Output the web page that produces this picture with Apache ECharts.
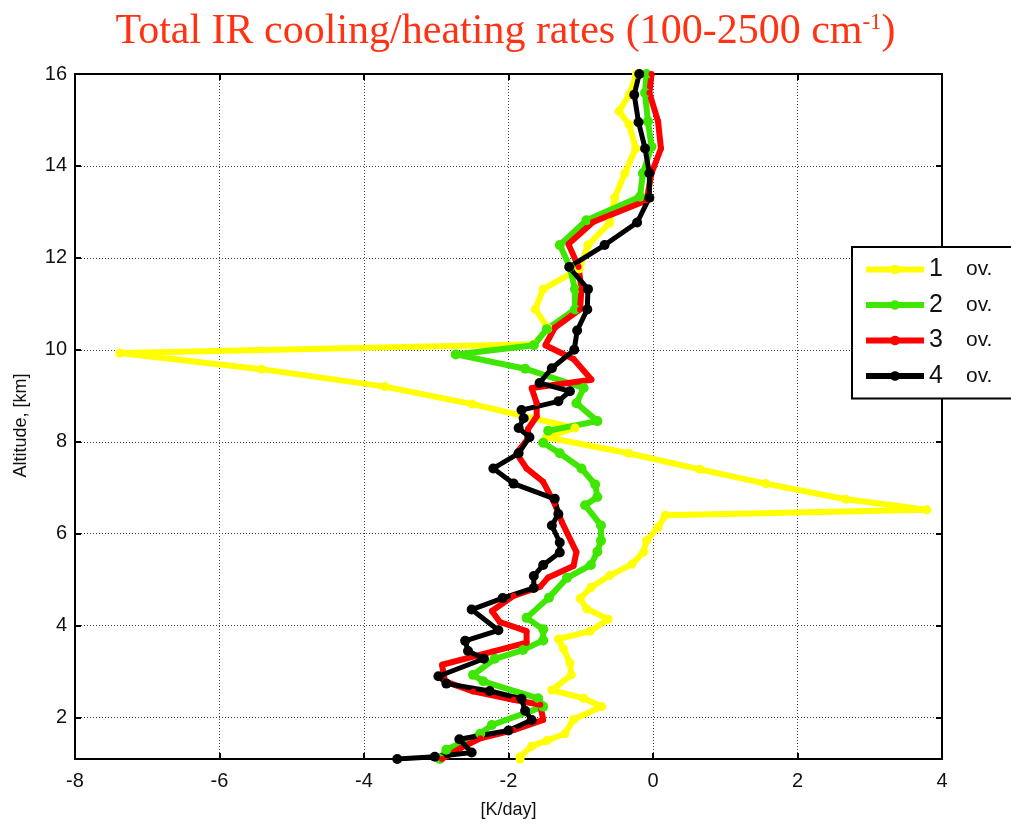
<!DOCTYPE html>
<html>
<head>
<meta charset="utf-8">
<title>Total IR cooling/heating rates</title>
<script src="https://cdn.jsdelivr.net/npm/echarts@6/dist/echarts.min.js"></script>
<style>
  html, body { margin: 0; padding: 0; background: #fff; }
  #main { width: 1011px; height: 828px; }
</style>
</head>
<body>
<div id="main"></div>
<script>
// 各廓线数据: [冷却率 K/day, 高度 km]
const ov1 = [
  [-0.23, 16], [-0.33, 15.55], [-0.47, 15.19], [-0.33, 14.9], [-0.24, 14.38], [-0.39, 13.84],
  [-0.53, 13.31], [-0.6, 12.76], [-0.9, 12.28], [-1.02, 11.76], [-1.52, 11.32], [-1.63, 10.88],
  [-1.45, 10.47], [-1.65, 10.12], [-7.38, 9.93], [-5.42, 9.58], [-3.71, 9.2], [-2.5, 8.82],
  [-1.08, 8.3], [-1.47, 8.1], [-0.34, 7.75], [0.65, 7.4], [1.56, 7.09], [2.67, 6.75],
  [3.79, 6.52], [0.17, 6.4], [0.07, 6.14], [-0.09, 5.85], [-0.13, 5.6], [-0.29, 5.34],
  [-0.6, 5.09], [-0.86, 4.83], [-1.01, 4.59], [-0.92, 4.37], [-0.62, 4.14], [-0.87, 3.88],
  [-1.31, 3.71], [-1.24, 3.5], [-1.15, 3.19], [-1.13, 2.93], [-1.4, 2.6], [-0.96, 2.42],
  [-0.71, 2.24], [-1.1, 1.96], [-1.22, 1.65], [-1.47, 1.5], [-1.68, 1.38], [-1.84, 1.15],
  [-1.84, 1.1]
];
const ov2 = [
  [-0.09, 16], [-0.11, 15.59], [-0.07, 14.97], [-0.02, 14.42], [-0.14, 13.84], [-0.18, 13.33],
  [-0.92, 12.82], [-1.29, 12.28], [-1.15, 11.8], [-1.08, 11.32], [-1.08, 10.88], [-1.47, 10.45],
  [-1.65, 10.1], [-2.73, 9.9], [-1.77, 9.59], [-0.96, 9.17], [-1.06, 8.84], [-0.77, 8.45],
  [-1.45, 8.24], [-1.52, 7.98], [-1.29, 7.75], [-0.99, 7.42], [-0.8, 7.07], [-0.77, 6.8],
  [-0.94, 6.62], [-0.72, 6.18], [-0.72, 5.85], [-0.77, 5.61], [-0.86, 5.32], [-1.19, 5.04],
  [-1.44, 4.61], [-1.75, 4.17], [-1.52, 3.92], [-1.52, 3.68], [-1.8, 3.47], [-2.19, 3.28],
  [-2.49, 2.93], [-2.35, 2.79], [-1.59, 2.42], [-1.52, 2.24], [-2.23, 1.84], [-2.39, 1.65],
  [-2.86, 1.3], [-2.95, 1.1]
];
const ov3 = [
  [-0.02, 16], [-0.05, 15.59], [0.07, 14.97], [0.11, 14.38], [-0.02, 13.84], [-0.09, 13.25],
  [-0.83, 12.78], [-1.17, 12.3], [-1.03, 11.8], [-0.99, 11.32], [-1.01, 10.88], [-1.36, 10.48],
  [-1.49, 10.1], [-1.1, 9.8], [-0.85, 9.35], [-1.68, 9.17], [-1.61, 8.84], [-1.61, 8.55],
  [-1.73, 8.28], [-1.73, 8.07], [-1.89, 7.75], [-1.75, 7.42], [-1.52, 7.13], [-1.36, 6.65],
  [-1.26, 6.25], [-1.06, 5.6], [-1.1, 5.3], [-1.45, 5.05], [-1.56, 4.85], [-1.93, 4.65],
  [-2.23, 4.32], [-2.12, 4.08], [-1.75, 3.88], [-1.75, 3.63], [-2.21, 3.44], [-2.92, 3.15],
  [-2.88, 2.79], [-2.49, 2.57], [-1.93, 2.39], [-1.56, 2.28], [-1.52, 1.95], [-1.93, 1.73],
  [-2.39, 1.55], [-2.67, 1.33], [-2.92, 1.1]
];
const ov4 = [
  [-0.19, 16], [-0.26, 15.55], [-0.2, 14.95], [-0.11, 14.38], [-0.05, 13.84], [-0.05, 13.31],
  [-0.22, 12.77], [-0.67, 12.28], [-1.16, 11.8], [-0.9, 11.32], [-0.91, 10.88], [-1.05, 10.42],
  [-1.09, 10.0], [-1.4, 9.6], [-1.57, 9.28], [-1.15, 9.1], [-1.31, 8.88], [-1.82, 8.69],
  [-1.79, 8.51], [-1.86, 8.3], [-1.71, 8.1], [-1.86, 7.75], [-2.21, 7.42], [-1.93, 7.09],
  [-1.36, 6.76], [-1.31, 6.43], [-1.4, 6.18], [-1.29, 5.81], [-1.29, 5.59], [-1.52, 5.32],
  [-1.65, 5.08], [-1.65, 4.82], [-2.08, 4.6], [-2.51, 4.35], [-2.14, 3.9], [-2.6, 3.67],
  [-2.56, 3.45], [-2.34, 3.28], [-2.97, 2.9], [-2.86, 2.74], [-2.26, 2.58], [-1.82, 2.41],
  [-1.77, 2.15], [-1.68, 1.95], [-2.0, 1.72], [-2.68, 1.53], [-2.51, 1.24], [-3.02, 1.15],
  [-3.54, 1.1]
];

const seriesNames = ['1', '2', '3', '4'];
const yTicks = [2, 4, 6, 8, 10, 12, 14, 16];

var myChart = echarts.init(document.getElementById('main'));

// 公共的线条设置
function makeLine(name, data, color, width, size) {
  return {
    name: name,
    type: 'line',
    data: data,
    color: color,
    symbol: 'circle',
    symbolSize: size,
    showAllSymbol: true,
    smooth: false,
    animation: false,
    lineStyle: { width: width, color: color },
    itemStyle: { color: color }
  };
}

var gridStyle = { show: true, lineStyle: { color: '#444', type: [1, 2], width: 1 } };

var option = {
  backgroundColor: '#fff',
  title: {
    text: '{a|Total IR cooling/heating rates (100-2500 cm}{s|-1}{a|)}',
    left: 'center',
    top: 6,
    textStyle: {
      rich: {
        a: { fontFamily: 'Liberation Serif', fontSize: 42, fontWeight: 'normal', color: '#ff3314' },
        s: { fontFamily: 'Liberation Serif', fontSize: 23, fontWeight: 'normal', color: '#ff3314', verticalAlign: 'top' }
      }
    }
  },
  grid: { left: 75, right: 69, top: 74, bottom: 69 },
  legend: {
    data: seriesNames,
    orient: 'vertical',
    left: 852,
    top: 247,
    width: 200,
    padding: [10, 60, 10, 11],
    backgroundColor: '#fff',
    borderColor: '#000',
    borderWidth: 2,
    borderRadius: 0,
    itemWidth: 58,
    itemHeight: 12,
    itemGap: 10.5,
    lineStyle: { width: 6 },
    formatter: function (name) {
      return '{n|' + name + '}{o|ov.}';
    },
    textStyle: {
      color: '#111',
      rich: {
        n: { fontFamily: 'Liberation Sans', fontSize: 25, width: 37, lineHeight: 21 },
        o: { fontFamily: 'Liberation Sans', fontSize: 21, lineHeight: 21 }
      }
    }
  },
  xAxis: [
    {
      type: 'value',
      min: -8,
      max: 4,
      interval: 2,
      name: '[K/day]',
      nameLocation: 'middle',
      nameGap: 42,
      nameTextStyle: { fontFamily: 'Liberation Sans', fontSize: 18, color: '#111' },
      axisLine: { show: true, onZero: false, lineStyle: { color: '#000', width: 2 } },
      axisTick: { show: true, inside: true, length: 6, lineStyle: { color: '#000', width: 2 } },
      axisLabel: { fontFamily: 'Liberation Sans', fontSize: 20, color: '#111', margin: 12 },
      splitLine: gridStyle
    },
    {
      type: 'value',
      position: 'top',
      min: -8,
      max: 4,
      interval: 2,
      axisLine: { show: true, onZero: false, lineStyle: { color: '#000', width: 2 } },
      axisTick: { show: true, inside: true, length: 6, lineStyle: { color: '#000', width: 2 } },
      axisLabel: { show: false },
      splitLine: { show: false }
    }
  ],
  yAxis: [
    {
      type: 'value',
      min: 1.1,
      max: 16,
      name: 'Altitude, [km]',
      nameLocation: 'middle',
      nameGap: 45,
      nameTextStyle: { fontFamily: 'Liberation Sans', fontSize: 18, color: '#111', padding: [0, 18, 0, 0] },
      axisLine: { show: true, onZero: false, lineStyle: { color: '#000', width: 2 } },
      axisTick: { show: true, inside: true, length: 6, customValues: yTicks, lineStyle: { color: '#000', width: 2 } },
      axisLabel: { fontFamily: 'Liberation Sans', fontSize: 20, color: '#111', margin: 8, customValues: yTicks },
      splitLine: gridStyle
    },
    {
      type: 'value',
      position: 'right',
      min: 1.1,
      max: 16,
      axisLine: { show: true, onZero: false, lineStyle: { color: '#000', width: 2 } },
      axisTick: { show: true, inside: true, length: 6, customValues: yTicks, lineStyle: { color: '#000', width: 2 } },
      axisLabel: { show: false },
      splitLine: { show: false }
    }
  ],
  series: [
    makeLine('1', ov1, '#ffff00', 6, 9),
    makeLine('2', ov2, '#3ee600', 6, 10),
    makeLine('3', ov3, '#ff0000', 6, 6),
    makeLine('4', ov4, '#000000', 5, 10)
  ]
};

myChart.setOption(option);
</script>
</body>
</html>
